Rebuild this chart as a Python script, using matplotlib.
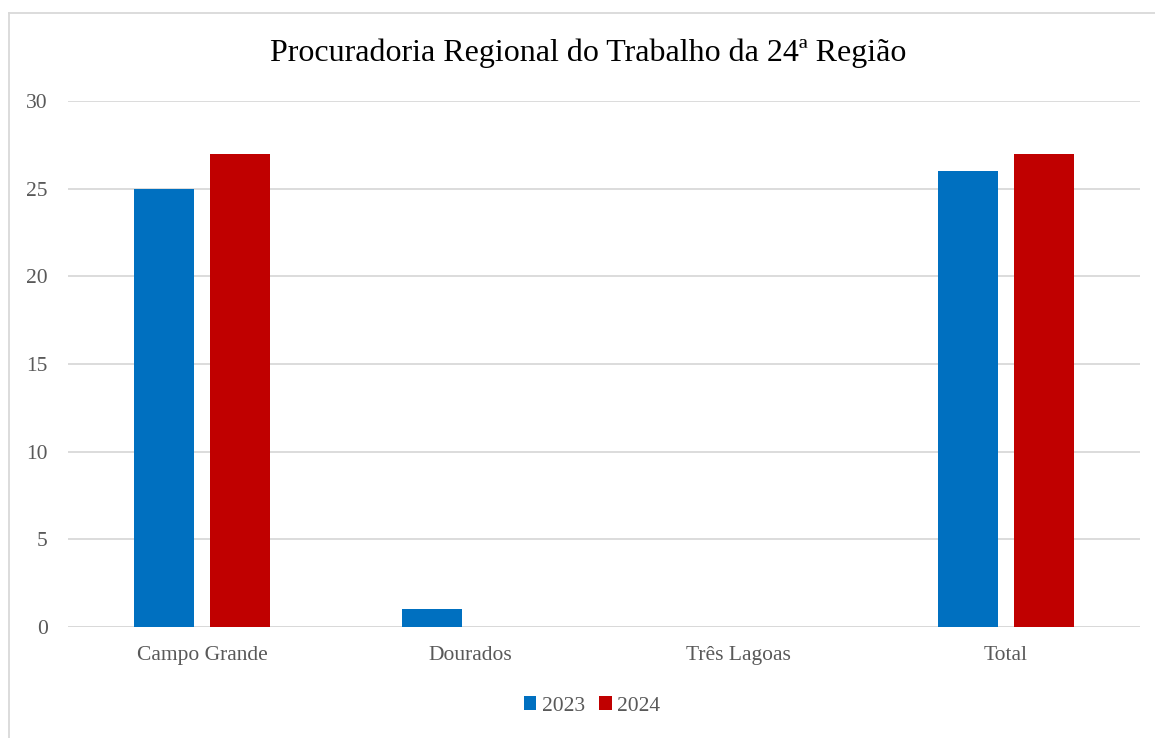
import matplotlib
matplotlib.use("Agg")
import matplotlib.pyplot as plt
from matplotlib.lines import Line2D
import numpy as np

categories = ["Campo Grande", "Dourados", "Três Lagoas", "Total"]
series_names = ["2023", "2024"]
values_2023 = [25, 1, 0, 26]
values_2024 = [27, 0, 0, 27]
colors = ["#0070C0", "#C00000"]
title = "Procuradoria Regional do Trabalho da 24ª Região"

plt.rcParams['font.family'] = ['Liberation Serif', 'DejaVu Serif']

W, H = 1155, 738
fig = plt.figure(figsize=(W / 100, H / 100), dpi=100)
ax = fig.add_axes([68 / W, 1 - 627 / H, (1140 - 68) / W, (627 - 101) / H])

x = np.arange(len(categories))
bw = 0.222
off = 0.142
ax.bar(x - off, values_2023, bw, color=colors[0], label=series_names[0], zorder=3)
ax.bar(x + off, values_2024, bw, color=colors[1], label=series_names[1], zorder=3)

ax.set_xlim(-0.5, len(categories) - 0.5)
ax.set_ylim(0, 30)
ax.set_yticks(range(0, 31, 5))
ax.set_xticks(x)
ax.set_xticklabels(categories)
ax.tick_params(axis='both', length=0, labelsize=15.5, labelcolor="#595959")
ax.tick_params(axis='y', pad=14.5)
ax.tick_params(axis='x', pad=14)
ax.grid(axis='y', color="#D9D9D9", linewidth=1.3, zorder=0)
for s in ["top", "right", "left", "bottom"]:
    ax.spines[s].set_visible(False)
ax.axhline(0, color="#D9D9D9", linewidth=1.3, zorder=2)

fig.text(588 / W, 1 - 53 / H, title, ha="center", va="center", fontsize=23, color="black")

leg = fig.legend(loc="center", bbox_to_anchor=(592 / W, 1 - 706 / H), ncol=2, frameon=False,
                 fontsize=15.5, handlelength=0.6, handleheight=0.6, handletextpad=0.25,
                 columnspacing=0.65, labelcolor="#595959")

# chart border (visible left and top edges)
fig.add_artist(Line2D([8.5 / W, 8.5 / W], [0, 1 - 12.5 / H], transform=fig.transFigure,
                      color="#D9D9D9", linewidth=1.3))
fig.add_artist(Line2D([8.5 / W, 1], [1 - 12.5 / H, 1 - 12.5 / H], transform=fig.transFigure,
                      color="#D9D9D9", linewidth=1.3))

fig.savefig("out.png", dpi=100, facecolor="white")
